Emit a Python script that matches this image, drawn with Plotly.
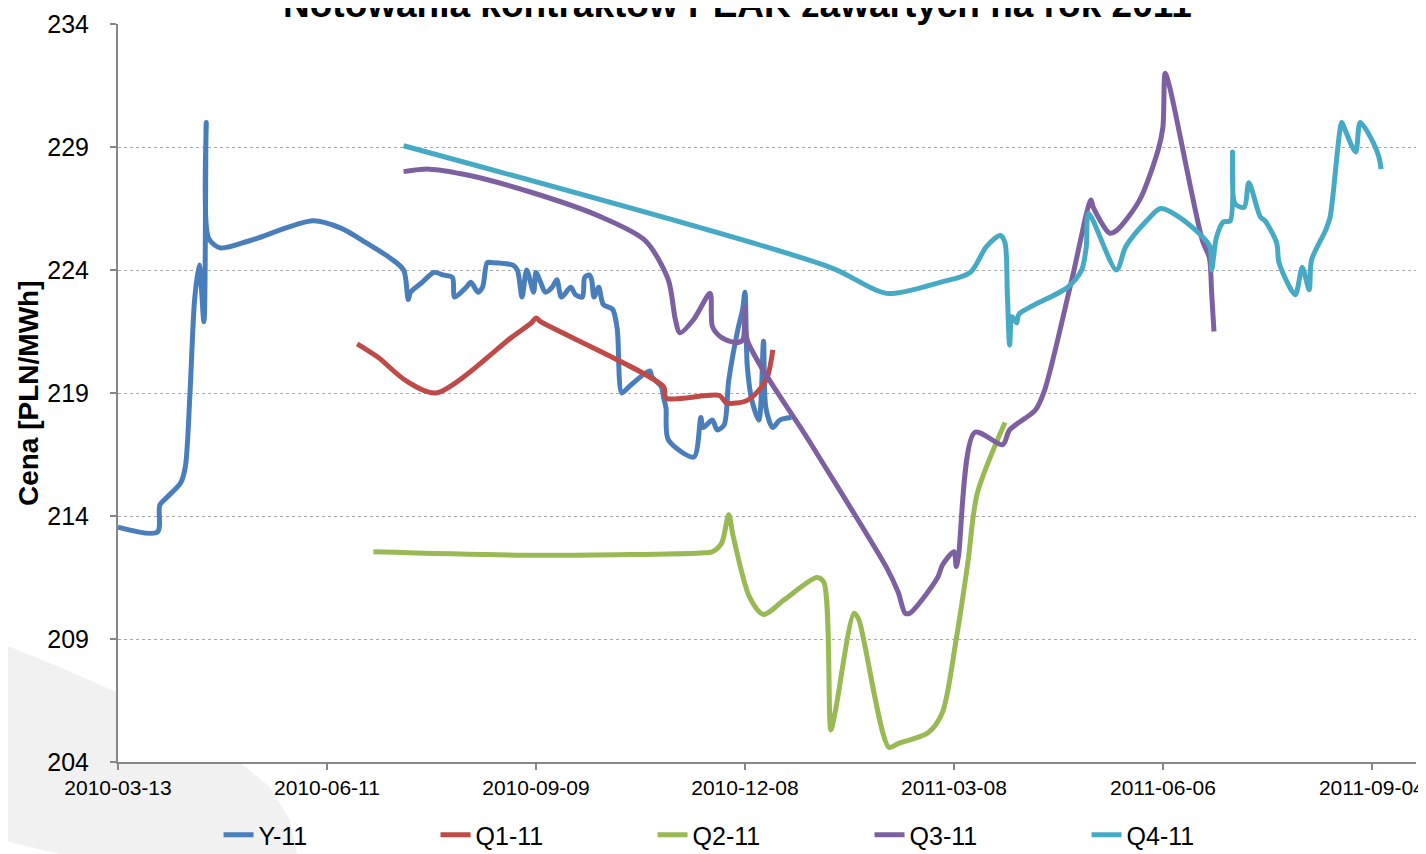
import plotly.graph_objects as go

# ---------------- data ----------------
y11_dates = ["2010-03-13","2010-03-30","2010-03-31","2010-04-03","2010-04-09","2010-04-11","2010-04-13",
    "2010-04-15","2010-04-17","2010-04-19","2010-04-20","2010-04-21","2010-04-26","2010-05-09","2010-06-05",
    "2010-06-17","2010-06-28","2010-07-08","2010-07-14","2010-07-16","2010-07-17","2010-07-22","2010-07-27",
    "2010-07-31","2010-08-04","2010-08-05","2010-08-10","2010-08-12","2010-08-15","2010-08-17","2010-08-19",
    "2010-08-21","2010-08-30","2010-09-01","2010-09-03","2010-09-05","2010-09-08","2010-09-09","2010-09-11",
    "2010-09-13","2010-09-16","2010-09-18","2010-09-20","2010-09-24","2010-09-26","2010-09-29","2010-09-30",
    "2010-10-02","2010-10-03","2010-10-04","2010-10-06","2010-10-08","2010-10-12","2010-10-14","2010-10-16",
    "2010-10-19","2010-10-28","2010-10-29","2010-11-02","2010-11-03","2010-11-04","2010-11-05","2010-11-16",
    "2010-11-19","2010-11-20","2010-11-24","2010-11-26","2010-11-29","2010-12-01","2010-12-05","2010-12-07",
    "2010-12-08","2010-12-09","2010-12-11","2010-12-14","2010-12-16","2010-12-17","2010-12-20","2010-12-23",
    "2010-12-28"]
y11_values = [213.55,213.35,214.45,214.75,215.35,216.0,219.0,
    222.8,224.2,221.9,230.0,225.3,224.9,225.2,226.0,
    225.7,225.1,224.5,224.0,222.8,223.1,223.5,223.9,
    223.8,223.7,222.9,223.3,223.5,223.1,223.3,224.3,
    224.3,224.2,224.0,222.9,224.0,223.1,223.9,223.5,
    223.1,223.3,223.6,222.9,223.3,223.0,222.9,223.7,
    223.8,223.6,222.9,223.3,222.6,222.4,221.6,219.0,
    219.25,219.9,219.65,219.25,218.8,218.4,217.1,216.4,
    218.0,217.6,217.9,217.5,217.7,219.5,221.6,222.4,
    223.1,220.1,218.7,217.9,221.1,218.4,217.6,217.9,
    218.0]

q1_dates = ["2010-06-24","2010-07-03","2010-07-15","2010-07-28","2010-08-30","2010-09-07","2010-09-09",
    "2010-09-11","2010-11-03","2010-11-04","2010-11-27","2010-11-30","2010-12-09","2010-12-17","2010-12-20"]
q1_values = [221.0,220.45,219.5,219.0,221.3,221.85,222.05,
    221.9,219.25,218.8,218.9,218.6,218.7,219.5,220.75]

q2_dates = ["2010-07-01","2010-09-11","2010-11-19","2010-11-24","2010-11-28","2010-12-01","2010-12-03",
    "2010-12-10","2010-12-16","2010-12-25","2011-01-08","2011-01-11","2011-01-14","2011-01-16","2011-01-24",
    "2011-01-26","2011-02-08","2011-02-12","2011-02-25","2011-03-03","2011-03-09","2011-03-14","2011-03-18",
    "2011-03-30"]
q2_values = [212.55,212.4,212.5,212.55,212.9,214.05,213.15,
    210.7,210.0,210.6,211.5,211.3,205.3,206.1,210.05,
    209.8,204.6,204.75,205.2,206.0,209.0,212.1,214.9,
    217.8]

q3_dates = ["2010-07-14","2010-07-25","2010-08-11","2010-09-09","2010-10-06","2010-10-26","2010-11-05",
    "2010-11-08","2010-11-10","2010-11-16","2010-11-23","2010-11-24","2010-11-28","2010-12-04","2010-12-07",
    "2010-12-08","2010-12-09","2011-01-05","2011-02-07","2011-02-12","2011-02-15","2011-02-17","2011-03-01",
    "2011-03-03","2011-03-08","2011-03-09","2011-03-10","2011-03-17","2011-03-29","2011-04-01","2011-04-12",
    "2011-04-16","2011-04-28","2011-05-06","2011-05-07","2011-05-14","2011-05-17","2011-05-27","2011-06-04",
    "2011-06-06","2011-06-07","2011-06-09","2011-06-23","2011-06-26","2011-06-27","2011-06-28"]
q3_values = [228.0,228.1,227.85,227.1,226.2,225.2,223.6,
    222.0,221.45,222.0,223.05,221.7,221.25,221.05,221.15,
    222.5,221.15,217.0,211.9,210.9,210.05,210.05,211.5,
    212.0,212.55,211.95,212.4,217.4,216.9,217.5,218.3,
    219.1,223.7,226.85,226.55,225.5,225.6,226.85,228.9,
    229.8,232.0,231.4,225.2,224.5,223.05,221.5]

q4_dates = ["2010-07-14","2011-01-14","2011-02-07","2011-03-02","2011-03-15","2011-03-22","2011-03-28",
    "2011-03-30","2011-03-31","2011-04-01","2011-04-02","2011-04-04","2011-04-05","2011-04-26","2011-05-02",
    "2011-05-04","2011-05-05","2011-05-17","2011-05-21","2011-05-30","2011-06-05","2011-06-13","2011-06-26",
    "2011-06-27","2011-06-29","2011-07-02","2011-07-05","2011-07-06","2011-07-07","2011-07-11","2011-07-13",
    "2011-07-18","2011-07-20","2011-07-25","2011-07-26","2011-08-02","2011-08-05","2011-08-08","2011-08-09",
    "2011-08-15","2011-08-17","2011-08-22","2011-08-23","2011-08-28","2011-08-30","2011-09-05","2011-09-07",
    "2011-09-08"]
q4_values = [229.05,224.1,223.05,223.5,223.9,224.95,225.4,
    225.1,223.05,220.95,222.1,221.85,222.2,223.3,224.0,
    224.95,226.3,224.0,224.95,226.0,226.5,226.15,225.0,
    224.0,225.3,225.95,226.0,228.8,226.7,226.55,227.55,
    226.15,226.0,225.1,224.3,223.0,224.1,223.2,224.4,
    225.6,226.15,230.0,229.8,228.8,230.0,229.1,228.6,
    228.1]

series_names = ["Y-11", "Q1-11", "Q2-11", "Q3-11", "Q4-11"]
series_colors = ["#4A7EBB", "#BE4B48", "#98B954", "#7D60A0", "#46AAC5"]

title_text = "Notowania kontraktów PEAK zawartych na rok 2011"
y_title = "Cena [PLN/MWh]"

FONT = "Liberation Sans, Arial, sans-serif"

fig = go.Figure()
all_series = [(y11_dates, y11_values), (q1_dates, q1_values), (q2_dates, q2_values),
              (q3_dates, q3_values), (q4_dates, q4_values)]
for (d, v), name, col in zip(all_series, series_names, series_colors):
    fig.add_trace(go.Scatter(x=d, y=v, name=name, mode="lines",
                             line=dict(color=col, width=5, shape="spline", smoothing=0.8)))

# decorative light-grey swoosh in the lower-left (outside plot area)
swoosh = ("M -0.0909,0.1612 L -0.0393,0.1247 L 0,0.0935 L 0,0 L 0.0932,0 "
          "L 0.1171,-0.0339 L 0.1325,-0.0786 L 0.1379,-0.1247 L -0.0447,-0.1247 L -0.0909,-0.1057 Z")
fig.add_shape(type="path", path=swoosh, xref="paper", yref="paper",
              fillcolor="#F1F1F1", line=dict(width=0), layer="below")

# page body has an 8px margin, so the figure is 8px smaller and margins shifted by 8px
fig.update_layout(
    width=1418, height=846,
    margin=dict(l=110, r=10, t=16, b=92, autoexpand=False),
    paper_bgcolor="white", plot_bgcolor="white",
    font=dict(family=FONT, color="black"),
    showlegend=True,
    legend=dict(orientation="h", x=0.4954, xanchor="center",
                yref="container", y=19 / 846, yanchor="middle",
                font=dict(size=25, family=FONT), entrywidth=172, entrywidthmode="pixels",
                bgcolor="rgba(0,0,0,0)"),
    xaxis=dict(type="date", range=["2010-03-13", "2011-09-23"], automargin=False,
               tick0="2010-03-13", dtick=90 * 86400000, tickformat="%Y-%m-%d",
               showgrid=False, showline=True, linecolor="#868686", linewidth=2,
               ticks="outside", ticklen=6, tickcolor="#868686", tickwidth=2,
               tickfont=dict(size=21, family=FONT), zeroline=False),
    yaxis=dict(range=[204, 234], tick0=204, dtick=5, automargin=False,
               showgrid=True, gridcolor="#AAAAAA", griddash="dot", gridwidth=1.2,
               showline=True, linecolor="#868686", linewidth=2,
               ticks="outside", ticklen=6, tickcolor="#868686", tickwidth=2,
               tickfont=dict(size=25, family=FONT), ticklabelstandoff=16, zeroline=False),
)

fig.add_annotation(text="<b>" + title_text + "</b>", xref="paper", yref="paper",
                   x=(737 - 118) / 1298, y=1.0262, xanchor="center", yanchor="middle",
                   showarrow=False, font=dict(size=37, family=FONT, color="black"))
fig.add_annotation(text="<b>" + y_title + "</b>", xref="paper", yref="paper",
                   x=-0.0693, y=0.5, xanchor="center", yanchor="middle", textangle=-90,
                   showarrow=False, font=dict(size=28, family=FONT, color="black"))

fig.write_html("out.html")
